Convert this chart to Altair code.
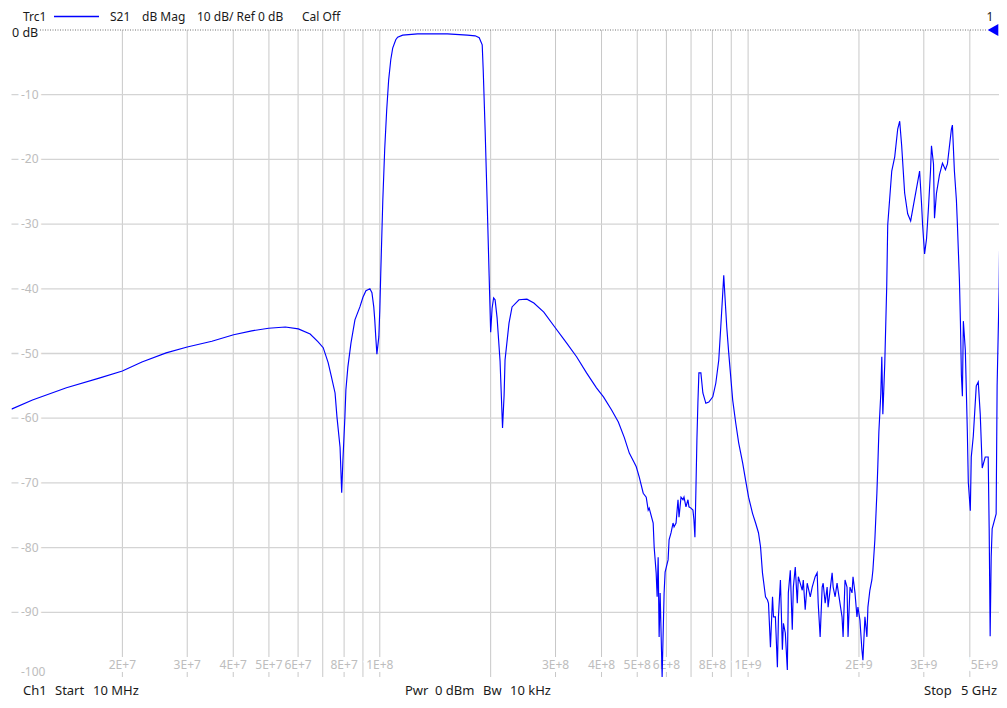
import altair as alt
import pandas as pd

# ---------------- data ----------------
freq_mhz = [
    10.0, 11.4, 14.1, 17.3, 20.0, 22.6, 26.3, 30.0, 35.0, 40.1, 44.9, 49.9, 55.4, 60.1,
    64.7, 68.0, 70.2, 72.4, 73.7, 75.6, 76.5, 78.0, 78.8, 79.4, 80.4, 80.9, 81.9, 83.5,
    85.6, 88.3, 90.0, 91.7, 94.0, 95.2, 96.3, 96.9, 97.5, 98.2, 99.4, 100.0, 100.6, 101.9,
    103.1, 104.4, 105.7, 107.1, 108.4, 110.5, 111.8, 115.4, 126.6, 152.6, 172.8, 181.6,
    186.2, 189.7, 190.9, 193.2, 195.6, 198.1, 200.0, 201.8, 203.7, 205.6, 208.2, 212.1,
    215.4, 217.5, 218.8, 224.3, 228.6, 238.7, 250.9, 262.0, 278.8, 298.5, 321.7, 342.2,
    364.2, 387.5, 404.9, 425.6, 444.3, 461.3, 475.8, 490.9, 497.0, 506.4, 519.1, 528.9,
    535.5, 538.8, 552.4, 555.8, 562.8, 566.3, 569.9, 573.4, 577.0, 584.2, 591.5, 595.2,
    606.4, 610.2, 617.8, 625.5, 629.4, 637.3, 645.2, 649.3, 657.4, 665.6, 669.8, 678.1,
    686.6, 690.9, 699.5, 708.3, 712.7, 717.1, 721.6, 726.1, 730.6, 735.2, 744.4, 753.7,
    767.9, 782.3, 802.0, 817.1, 832.5, 842.9, 853.5, 858.8, 864.1, 875.0, 885.9, 908.2,
    925.4, 942.8, 966.5, 984.7, 1003, 1028, 1048, 1067, 1081, 1094, 1115, 1129, 1136,
    1150, 1165, 1172, 1186, 1201, 1209, 1224, 1239, 1247, 1262, 1278, 1286, 1302, 1318,
    1327, 1343, 1360, 1369, 1403, 1412, 1429, 1447, 1475, 1493, 1521, 1540, 1550, 1569,
    1589, 1599, 1619, 1639, 1649, 1691, 1702, 1723, 1744, 1755, 1799, 1811, 1833, 1856,
    1868, 1891, 1915, 1927, 1951, 1975, 1987, 2012, 2037, 2050, 2076, 2102, 2115, 2141,
    2168, 2182, 2209, 2237, 2251, 2265, 2293, 2307, 2322, 2350, 2379, 2394, 2455, 2501,
    2548, 2580, 2612, 2661, 2712, 2763, 2815, 2886, 2922, 2958, 2977, 3014, 3051, 3089,
    3128, 3147, 3187, 3207, 3247, 3308, 3371, 3434, 3477, 3565, 3587, 3632, 3678, 3701,
    3747, 3771, 3794, 3818, 3841, 3889, 3938, 3962, 4012, 4036, 4087, 4164, 4216, 4269,
    4322, 4404, 4486, 4514, 4542, 4571, 4599, 4715, 4744, 4804, 4834, 4864, 5000,
]
s21_db = [
    -58.6, -57.2, -55.3, -53.8, -52.7, -51.3, -49.9, -49.0, -48.1, -47.1, -46.5, -46.1, -45.9, -46.2,
    -47.0, -48.2, -49.1, -51.4, -53.3, -56.1, -59.8, -64.5, -71.5, -66.5, -59.8, -55.6, -52.1, -48.4,
    -44.8, -42.8, -41.3, -40.3, -40.0, -40.6, -42.8, -44.8, -47.4, -50.1, -47.4, -43.3, -37.6, -26.3,
    -18.5, -12.4, -7.7, -4.6, -2.8, -1.5, -1.1, -0.8, -0.6, -0.6, -0.8, -0.9,
    -1.2, -2.3, -6.2, -15.5, -26.3, -38.0, -46.7, -43.0, -41.4, -41.7, -44.5, -51.2,
    -61.5, -56.5, -51.0, -45.3, -42.8, -41.7, -41.6, -42.2, -43.6, -45.9, -48.4, -50.5,
    -53.0, -55.3, -56.7, -58.7, -60.6, -63.0, -65.4, -66.9, -67.5, -69.1, -71.6, -72.2,
    -74.2, -73.9, -76.2, -79.9, -83.9, -87.6, -81.5, -93.8, -87.0, -100.0, -87.0, -83.8,
    -81.9, -78.8, -77.7, -76.2, -76.8, -76.2, -72.6, -75.3, -72.2, -72.6, -72.2, -73.7,
    -72.6, -73.7, -73.9, -74.2, -75.7, -78.4, -71.1, -63.4, -57.7, -53.0, -53.0, -56.1,
    -57.7, -57.5, -56.7, -54.6, -51.0, -45.9, -40.6, -37.9, -40.6, -45.9, -49.9, -57.2,
    -60.7, -63.8, -66.9, -69.6, -72.2, -74.7, -76.2, -77.7, -79.9, -83.9, -87.6, -88.1, -88.6,
    -95.4, -87.6, -90.7, -90.7, -98.5, -90.7, -85.0, -95.8, -91.7, -93.2, -98.9, -87.0, -83.5, -92.7,
    -86.1, -83.0, -88.6, -84.5, -86.6, -85.0, -89.6, -85.5, -87.6, -86.1, -84.5, -83.9, -88.6, -93.8,
    -86.1, -85.5, -88.6, -86.1, -89.2, -83.9, -86.1, -87.6, -85.5, -86.6, -90.7, -93.8, -85.0, -86.1,
    -93.8, -86.1, -87.0, -84.5, -87.0, -90.7, -89.2, -91.2, -95.8, -97.4, -90.7, -93.8, -89.2, -86.6,
    -85.0, -83.5, -78.8, -71.6, -67.1, -62.1, -56.1, -50.5, -59.4, -51.6, -39.6, -30.1, -21.8, -19.6,
    -15.3, -14.1, -17.9, -25.2, -28.4, -29.5, -26.9, -23.5, -21.8, -26.9, -30.1, -34.6, -32.3, -27.4,
    -21.8, -17.9, -20.7, -29.1, -25.2, -22.4, -20.6, -21.6, -20.7, -15.3, -14.7, -21.8, -26.3, -30.1,
    -38.5, -45.0, -53.3, -56.6, -45.0, -49.5, -62.1, -69.9, -74.3, -66.0, -62.8, -55.0, -54.4, -59.4,
    -67.7, -66.0, -66.0, -77.1, -93.7, -81.5, -77.1, -74.8, -55.0, -40.0, -25.7, -28.4, -26.0,
]

grid_freq_mhz = [20, 30, 40, 50, 60, 70, 80, 90, 100, 200, 300, 400, 500, 600, 700, 800, 900,
                 1000, 2000, 3000, 4000]
xlabel_freq_mhz = [20, 30, 40, 50, 60, 80, 100, 300, 400, 500, 600, 800, 1000, 2000, 3000]
xlabel_text = ["2E+7", "3E+7", "4E+7", "5E+7", "6E+7", "8E+7", "1E+8", "3E+8", "4E+8",
               "5E+8", "6E+8", "8E+8", "1E+9", "2E+9", "3E+9"]
edge_label_text = ["5E+9"]
grid_db = [-10, -20, -30, -40, -50, -60, -70, -80, -90]
ylabel_db = [-10, -20, -30, -40, -50, -60, -70, -80, -90]
ylabel_text = ["-10", "-20", "-30", "-40", "-50", "-60", "-70", "-80", "-90"]
bottom_label_db = [-100]
bottom_label_text = ["-100"]
ref_level_db = [0]

title_items = [("Trc1", 11.5), ("S21", 98.5), ("dB Mag", 130.5), ("10 dB/ Ref 0 dB", 185.5),
               ("Cal Off", 290.5)]
footer_items = [("Ch1", 11.5), ("Start", 43.5), ("10 MHz", 81.5), ("Pwr", 393.5),
                ("0 dBm", 423.5), ("Bw", 471.5), ("10 kHz", 498.5), ("Stop", 912.5),
                ("5 GHz", 949.5)]

# ---------------- chart ----------------
W, H = 987.5, 647
FONT = "Noto Sans"
BLUE = "#0000ff"
LABEL_GREY = "#bdbdbd"
TEXT = "#1a1a1a"

xs = alt.Scale(type="log", domain=[10, 4800], nice=False)
ys = alt.Scale(domain=[-100, 0], nice=False)

trace = pd.DataFrame({"f": freq_mhz, "db": s21_db})

vgrid = alt.Chart(pd.DataFrame({"f": grid_freq_mhz})).mark_rule(
    color="#c8c8c8", strokeWidth=1
).encode(
    x=alt.X("f:Q", scale=xs,
            axis=alt.Axis(title=None, labels=False, ticks=False, grid=False,
                          domain=True, domainColor="#b0b0b0", domainWidth=1)),
    y=alt.value(0), y2=alt.value(H),
)

hgrid = alt.Chart(pd.DataFrame({"db": grid_db})).mark_rule(
    color="#d4d4d4", strokeWidth=1.3
).encode(
    y=alt.Y("db:Q", scale=ys,
            axis=alt.Axis(title=None, labels=False, ticks=False, grid=False,
                          domain=True, domainColor="#b0b0b0", domainWidth=1)),
    x=alt.value(0), x2=alt.value(W),
)

def halo_pair(chart_base, **kw):
    halo = chart_base.mark_text(font=FONT, fontSize=12, color="white", stroke="white",
                                strokeWidth=6, **kw)
    lab = chart_base.mark_text(font=FONT, fontSize=12, color=LABEL_GREY, **kw)
    return [halo, lab]

xlab_base = alt.Chart(pd.DataFrame({"f": xlabel_freq_mhz, "t": xlabel_text})).encode(
    x=alt.X("f:Q", scale=xs, axis=None), y=alt.value(H - 12), text="t:N")
edge_base = alt.Chart(pd.DataFrame({"t": edge_label_text})).encode(
    x=alt.value(W - 1), y=alt.value(H - 12), text="t:N")
ylab_base = alt.Chart(pd.DataFrame({"db": ylabel_db, "t": ylabel_text})).encode(
    y=alt.Y("db:Q", scale=ys, axis=None), x=alt.value(9.5), text="t:N")
blab_base = alt.Chart(pd.DataFrame({"db": bottom_label_db, "t": bottom_label_text})).encode(
    y=alt.Y("db:Q", scale=ys, axis=None), x=alt.value(9.5), text="t:N")

labels = (
    halo_pair(xlab_base, baseline="middle", align="center")
    + halo_pair(edge_base, baseline="middle", align="right")
    + halo_pair(ylab_base, baseline="middle", align="left")
    + halo_pair(blab_base, baseline="middle", align="left", dy=-5)
)

ref_df = pd.DataFrame({"db": ref_level_db, "t": ["0 dB"]})
ref_line = alt.Chart(ref_df).mark_rule(color="#707070", strokeWidth=1, strokeDash=[1, 1.5]).encode(
    y=alt.Y("db:Q", scale=ys, axis=None), x=alt.value(28.5), x2=alt.value(W - 12))
ref_text = alt.Chart(ref_df).mark_text(font=FONT, fontSize=12.5, color=TEXT, align="left",
                                       baseline="middle", dy=3).encode(
    y=alt.Y("db:Q", scale=ys, axis=None), x=alt.value(0.5), text="t:N")
ref_marker = alt.Chart(ref_df).mark_point(shape="triangle-left", filled=True, color=BLUE,
                                          opacity=1, size=150).encode(
    y=alt.Y("db:Q", scale=ys, axis=None), x=alt.value(W - 6))

line = alt.Chart(trace).mark_line(color=BLUE, strokeWidth=1.15, interpolate="linear",
                                  clip=True).encode(
    x=alt.X("f:Q", scale=xs, axis=None),
    y=alt.Y("db:Q", scale=ys, axis=None),
)

def txt(t, x, y, align="left", size=13):
    return alt.Chart(pd.DataFrame({"t": [t]})).mark_text(
        font=FONT, fontSize=size, color=TEXT, align=align, baseline="alphabetic"
    ).encode(x=alt.value(x), y=alt.value(y), text="t:N")

title_layers = [txt(t, x, -9, size=12) for t, x in title_items]
title_layers.append(txt("1", 978.5, -9, align="center", size=12))
footer_layers = [txt(t, x, 665) for t, x in footer_items]

legend_line = alt.Chart(pd.DataFrame({"t": ["Trc1"]})).mark_rule(color=BLUE, strokeWidth=1.6).encode(
    x=alt.value(42.5), x2=alt.value(87.5), y=alt.value(-13.5))

chart = alt.layer(
    vgrid, hgrid, *labels, ref_line, ref_text, ref_marker, line,
    *title_layers, legend_line, *footer_layers,
).properties(
    width=W, height=H,
    autosize=alt.AutoSizeParams(type="none"),
    padding={"left": 3.5, "top": 22, "right": 0, "bottom": 21},
    background="white",
).configure_view(stroke=None)

chart.save("out.html", embed_options={"renderer": "svg", "actions": False})
